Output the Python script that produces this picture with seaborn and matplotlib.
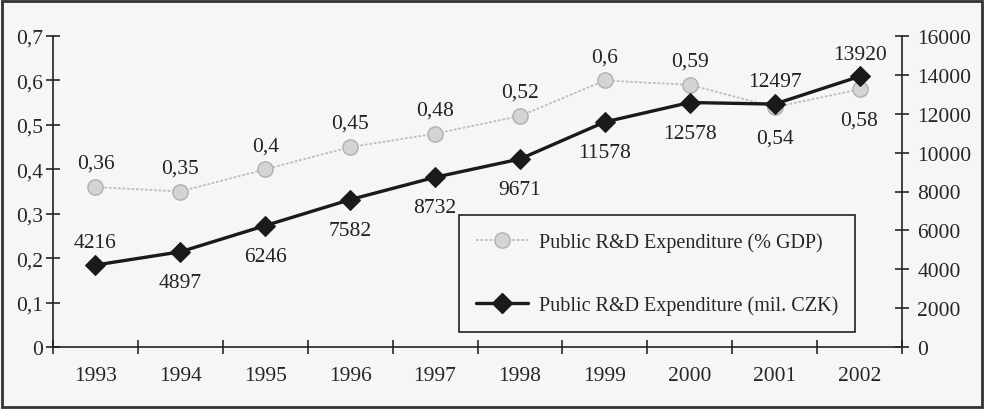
import pandas as pd
import matplotlib
matplotlib.use("Agg")
import matplotlib.pyplot as plt
import matplotlib.ticker as mticker
from matplotlib.lines import Line2D
import seaborn as sns

# === DATA ===
years = [1993, 1994, 1995, 1996, 1997, 1998, 1999, 2000, 2001, 2002]
gdp_share = [0.36, 0.35, 0.40, 0.45, 0.48, 0.52, 0.60, 0.59, 0.54, 0.58]
czk_mil = [4216, 4897, 6246, 7582, 8732, 9671, 11578, 12578, 12497, 13920]
gdp_label = "Public R&D Expenditure (% GDP)"
czk_label = "Public R&D Expenditure (mil. CZK)"


def comma(v, pos=None):
    s = ("%g" % round(v, 2))
    return s.replace(".", ",")


def main():
    sns.set_style("ticks")
    plt.rcParams["font.family"] = ["Liberation Serif", "DejaVu Serif"]
    fs = 15.5
    plt.rcParams["font.size"] = fs

    df = pd.DataFrame({"pos": range(len(years)), "year": years,
                       "gdp": gdp_share, "czk": czk_mil})

    fig = plt.figure(figsize=(9.84, 4.10), dpi=100, facecolor="#f6f6f6")
    ax = fig.add_axes([53 / 984, 62 / 410, 849 / 984, 311 / 410])
    ax.set_facecolor("none")
    ax2 = ax.twinx()

    sns.lineplot(data=df, x="pos", y="gdp", ax=ax, color="#bdbdbd",
                 linestyle=(0, (1.5, 1)), linewidth=1.3, marker="o",
                 markersize=11, markerfacecolor="#d4d4d4",
                 markeredgecolor="#b0b0b0", markeredgewidth=1, zorder=2)
    sns.lineplot(data=df, x="pos", y="czk", ax=ax2, color="#1a1a1a",
                 linewidth=2.4, marker="D", markersize=10,
                 markerfacecolor="#1a1a1a", markeredgecolor="#1a1a1a",
                 zorder=3)

    ax.set_xlim(-0.5, len(years) - 0.5)
    ax.set_ylim(0, 0.7)
    ax2.set_ylim(0, 16000)
    ax.yaxis.set_major_locator(mticker.MultipleLocator(0.1))
    ax.yaxis.set_major_formatter(mticker.FuncFormatter(comma))
    ax2.yaxis.set_major_locator(mticker.MultipleLocator(2000))

    # category axis: ticks between categories, labels centred
    ax.set_xticks([i - 0.5 for i in range(len(years) + 1)])
    ax.set_xticklabels([])
    ax.set_xticks(range(len(years)), minor=True)
    ax.set_xticklabels([str(y) for y in years], minor=True)
    ax.tick_params(axis="x", which="minor", length=0, pad=14, labelsize=fs)
    ax.tick_params(axis="x", which="major", direction="inout", length=10,
                   width=1.2)
    ax.tick_params(axis="y", direction="inout", length=10, width=1.2,
                   labelsize=fs, pad=2)
    ax2.tick_params(axis="y", direction="inout", length=10, width=1.2,
                    labelsize=fs, pad=6)
    for a in (ax, ax2):
        a.set_xlabel("")
        a.set_ylabel("")
        a.spines["top"].set_visible(False)
        for side in ("left", "right", "bottom"):
            a.spines[side].set_linewidth(1.2)
            a.spines[side].set_color("#222222")
    ax.spines["right"].set_visible(False)
    ax2.spines["left"].set_visible(False)
    ax2.spines["bottom"].set_visible(False)

    # value labels
    gdp_below = {2001, 2002}
    for i, (y, v) in enumerate(zip(years, gdp_share)):
        dy = -22 if y in gdp_below else 17
        ax.annotate(comma(v), (i, v), xytext=(0, dy), textcoords="offset points",
                    ha="center", va="center", fontsize=fs, color="#222222")
    czk_above = {1993, 2001, 2002}
    for i, (y, v) in enumerate(zip(years, czk_mil)):
        dy = 16 if y in czk_above else -22
        ax2.annotate(str(v), (i, v), xytext=(0, dy), textcoords="offset points",
                     ha="center", va="center", fontsize=fs, color="#222222")

    handles = [
        Line2D([], [], color="#bdbdbd", linestyle=(0, (1.5, 1)), linewidth=1.3,
               marker="o", markersize=11, markerfacecolor="#d4d4d4",
               markeredgecolor="#b0b0b0"),
        Line2D([], [], color="#1a1a1a", linewidth=2.4, marker="D",
               markersize=10, markerfacecolor="#1a1a1a"),
    ]
    leg = ax2.legend(handles, [gdp_label, czk_label], loc="lower left",
                     bbox_to_anchor=(406 / 849, 15 / 311), fontsize=14.5,
                     frameon=True, fancybox=False, borderpad=0.85,
                     labelspacing=2.15, handlelength=2.6, handletextpad=0.5,
                     borderaxespad=0)
    leg.get_frame().set_edgecolor("#222222")
    leg.get_frame().set_linewidth(1.2)
    leg.get_frame().set_facecolor("#f6f6f6")
    leg.get_frame().set_alpha(1)

    # scanned page border
    fig.patches.append(plt.Rectangle((0.002, 0.004), 0.996, 0.992,
                                     transform=fig.transFigure, fill=False,
                                     edgecolor="#333333", linewidth=2))

    fig.savefig("out.png", dpi=100, facecolor=fig.get_facecolor())
    plt.close(fig)


if __name__ == "__main__":
    main()
